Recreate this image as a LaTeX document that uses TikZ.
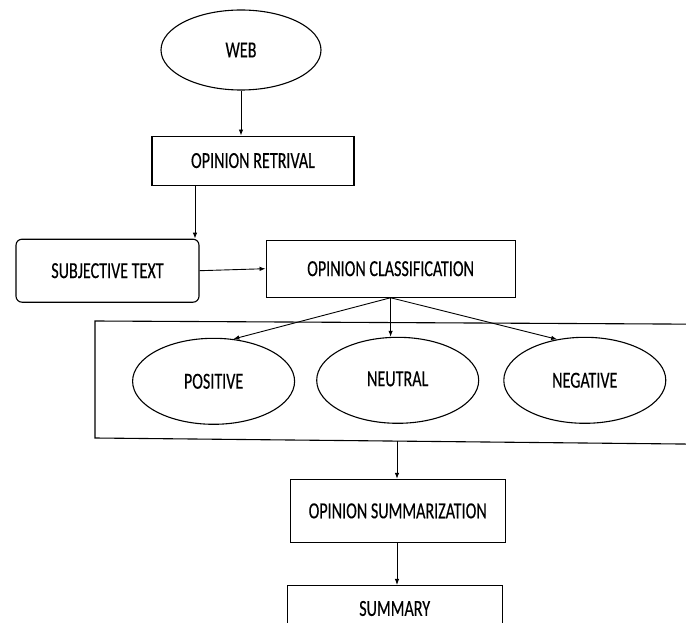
\documentclass[tikz,border=0pt]{standalone}
\usepackage{fontspec}
\newfontfamily\diagfont[FakeStretch=0.7, FakeBold=0.3]{Carlito}
\usetikzlibrary{positioning, arrows.meta, shapes.geometric}

\begin{document}
\begin{tikzpicture}[
    x=1pt, y=-1pt,
    font=\diagfont\fontsize{23}{26}\selectfont,
    oval/.style={
        ellipse,
        draw,
        line width=1.1pt,
        inner sep=0pt,
        minimum width=162pt,
        minimum height=86pt
    },
    block/.style={
        rectangle,
        draw,
        line width=1.1pt,
        inner sep=0pt,
        align=center
    },
    roundblock/.style={
        block,
        rounded corners=6pt
    },
    layer/.style={
        draw,
        line width=1.1pt
    },
    arrow/.style={
        -{Latex[length=6pt, width=4.5pt]},
        line width=0.9pt
    }
]

\path[use as bounding box, clip] (0,0) rectangle (686,623);

% ------------------------------------------------------------------
% RETRIEVAL
% ------------------------------------------------------------------

\node[oval, minimum width=160pt, minimum height=80pt] (web) at (241,50) {WEB};

\node[block, minimum width=202pt, minimum height=49pt,
      below=45pt of web, xshift=12pt] (retrival) {OPINION RETRIVAL};

\node[roundblock, minimum width=183pt, minimum height=63pt,
      below=53pt of retrival, xshift=-145.5pt] (subjective) {SUBJECTIVE TEXT};

\node[block, minimum width=249pt, minimum height=57pt,
      right=66pt of subjective, yshift=2pt] (classification) {OPINION CLASSIFICATION};

% ------------------------------------------------------------------
% POLARITY LAYER
% ------------------------------------------------------------------

\draw[layer] (700,324.2) -- (95,321) -- (95,438) -- (700,444.2);

\node[oval, below=40pt of classification, xshift=-177pt] (positive) {POSITIVE};
\node[oval, right=21pt of positive, yshift=1pt] (neutral) {\raisebox{3pt}{NEUTRAL}};
\node[oval, right=24pt of neutral] (negative) {NEGATIVE};

\coordinate (layerout) at (397,441);

% ------------------------------------------------------------------
% SUMMARIZATION
% ------------------------------------------------------------------

\node[block, minimum width=215pt, minimum height=63pt,
      below=55pt of neutral] (summarization) {OPINION SUMMARIZATION};

\node[block, minimum width=215pt, minimum height=46pt,
      below=42pt of summarization, xshift=-3pt] (summary) {SUMMARY};

% ------------------------------------------------------------------
% CONNECTIONS
% ------------------------------------------------------------------

\draw[arrow] (web.south) -- (web.south |- retrival.north);
\draw[arrow] ([xshift=-58pt]retrival.south) -- ([xshift=-58pt]retrival.south |- subjective.north);
\draw[arrow] (subjective.east) -- (classification.west);

\draw[arrow] (classification.south) -- (positive.65);
\draw[arrow] (classification.south) -- (classification.south |- neutral.north);
\draw[arrow] (classification.south) -- (negative.124);

\draw[arrow] (layerout) -- (layerout |- summarization.north);
\draw[arrow] (layerout |- summarization.south) -- (layerout |- summary.north);

\end{tikzpicture}
\end{document}
